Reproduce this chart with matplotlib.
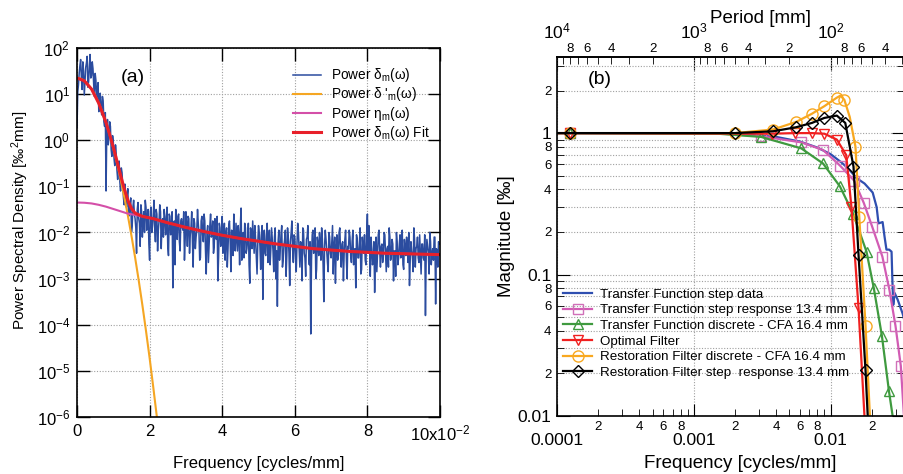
import numpy as np
import matplotlib
matplotlib.use('Agg')
import matplotlib.pyplot as plt
from matplotlib.ticker import FixedLocator, FuncFormatter, NullLocator, LogLocator

plt.rcParams['font.family'] = ['Liberation Sans', 'DejaVu Sans']
plt.rcParams['mathtext.fontset'] = 'custom'
plt.rcParams['mathtext.rm'] = 'Liberation Sans'
plt.rcParams['mathtext.it'] = 'Liberation Sans:italic'
plt.rcParams['mathtext.default'] = 'regular'

# ---- panel (a): power spectra, values are log10 of the PSD ----
# samples at f = 0, 0.0004, 0.0008, ...
psd_log = [
    0.28, 1.20, 1.62, 1.35, 1.70, 0.98, 1.58, 1.82, 1.28, 1.86,
    1.40, 1.55, 0.95, 1.30, 1.12, 0.62, 1.02, 0.55, 0.85, 0.30,
    -1.10, 0.45, 0.05, 0.30, -0.35, -0.05, -0.55, -0.30, -0.85, -0.45,
    -1.10, -0.70, -1.25, -0.95, -1.45, -1.05, -1.60, -1.25, -1.85, -1.30,
    -1.70, -2.45, -1.35, -1.80, -1.40, -2.10, -1.55, -1.30, -1.95, -1.50,
    -2.60, -1.45, -1.85, -1.30, -2.20, -1.60, -1.95, -1.40, -2.35, -1.70,
    -1.50, -2.05, -1.45, -2.50, -1.65, -1.90, -3.20, -1.75, -1.50, -2.15,
    -1.60, -2.40, -1.70, -1.95, -2.60, -1.55, -2.30, -1.70, -2.05, -1.55,
    -2.75, -1.80, -2.10, -1.50, -2.00, -2.55, -1.65, -2.20, -1.75, -2.90,
    -1.85, -2.25, -1.60, -2.05, -2.45, -1.70, -2.15, -3.05, -1.80, -2.30,
    -1.65, -2.20, -2.60, -1.90, -2.35, -1.75, -2.85, -2.00, -1.60, -2.40,
    -2.10, -1.85, -2.70, -1.47, -2.20, -2.55, -1.90, -2.35, -1.80, -3.10,
    -2.05, -1.75, -2.45, -2.15, -2.90, -1.85, -2.30, -2.05, -3.45, -1.95,
    -2.50, -1.80, -2.25, -2.70, -1.90, -2.40, -2.10, -3.00, -3.60, -1.95,
    -2.35, -1.85, -2.60, -2.15, -2.95, -1.90, -2.45, -2.20, -1.75, -2.65,
    -2.10, -2.85, -1.80, -2.40, -2.20, -3.05, -1.95, -2.55, -2.15, -1.85,
    -2.70, -4.20, -2.05, -2.45, -1.90, -2.80, -2.25, -2.00, -2.60, -2.15,
    -3.50, -1.95, -2.40, -2.85, -2.10, -2.55, -1.85, -2.30, -3.10, -2.05,
    -2.50, -1.90, -2.75, -2.20, -2.45, -1.95, -3.00, -2.35, -2.10, -2.65,
    -1.95, -2.40, -3.20, -2.15, -2.55, -1.90, -2.80, -2.30, -2.05, -2.70,
    -1.60, -1.85, -2.95, -2.35, -2.60, -3.30, -2.10, -2.45, -1.95, -2.75,
    -2.25, -2.50, -2.05, -2.85, -2.30, -1.90, -2.60, -2.15, -3.05, -2.40,
    -2.00, -2.70, -2.25, -2.55, -1.95, -2.80, -2.35, -2.10, -2.65, -3.15,
    -2.20, -2.50, -1.90, -2.75, -2.30, -2.55, -2.05, -2.90, -2.25, -2.60,
    -3.80, -2.15, -2.45, -2.00, -2.70, -2.35, -2.10, -3.55, -2.40, -2.20,
]
# samples in between, at f = 0.0002, 0.0006, 0.0010, ...
psd_log_mid = [
    1.05, 1.45, 1.75, 1.10, 1.50, 1.30, 1.68, 1.15, 1.60, 1.35,
    1.70, 1.20, 1.45, 0.90, 1.25, 0.85, 0.70, 0.95, 0.40, 0.60,
    0.20, -0.10, 0.40, -0.20, 0.10, -0.40, -0.10, -0.65, -0.50, -0.90,
    -0.60, -1.00, -1.40, -1.15, -1.20, -1.65, -1.40, -2.00, -1.45, -1.60,
    -1.90, -1.50, -1.70, -2.30, -1.55, -1.75, -2.00, -1.45, -1.65, -2.25,
    -1.55, -2.00, -1.65, -1.90, -1.50, -2.40, -1.75, -1.55, -1.85, -2.10,
    -1.65, -1.80, -2.30, -1.60, -2.05, -1.55, -2.00, -2.70, -1.80, -1.65,
    -2.20, -1.75, -1.90, -1.55, -2.15, -1.85, -1.65, -2.45, -1.90, -2.20,
    -1.70, -2.35, -1.95, -1.80, -2.60, -1.75, -2.05, -1.60, -2.40, -2.00,
    -2.65, -1.85, -2.10, -1.75, -2.30, -2.00, -1.65, -2.55, -1.90, -2.15,
    -2.45, -1.80, -2.05, -2.75, -1.85, -2.20, -1.95, -2.50, -2.30, -1.80,
    -2.40, -2.05, -1.85, -2.60, -2.00, -1.80, -2.45, -2.15, -2.70, -1.90,
    -2.35, -2.10, -1.85, -2.55, -2.25, -2.00, -2.80, -1.85, -2.20, -2.45,
    -2.05, -2.65, -1.95, -2.35, -2.15, -2.85, -1.90, -2.40, -2.20, -2.60,
    -2.05, -2.75, -2.30, -1.95, -2.50, -2.10, -3.15, -2.00, -2.35, -2.05,
    -2.55, -2.25, -2.00, -2.75, -2.35, -1.90, -2.45, -2.95, -2.10, -2.40,
    -2.20, -2.60, -1.95, -2.35, -3.00, -2.10, -2.50, -2.25, -1.90, -2.70,
    -2.30, -2.15, -2.65, -2.00, -2.45, -2.20, -2.90, -2.10, -2.35, -2.60,
    -2.00, -2.40, -2.25, -3.05, -2.15, -2.55, -2.30, -1.95, -2.50, -2.20,
    -2.70, -2.35, -2.05, -2.55, -2.25, -2.90, -2.10, -2.45, -2.60, -2.00,
    -2.45, -2.30, -2.10, -2.70, -2.20, -2.55, -2.85, -2.05, -2.40, -2.30,
    -2.65, -2.00, -2.45, -2.35, -2.75, -2.10, -2.50, -2.25, -2.40, -2.95,
    -2.20, -2.55, -2.05, -2.40, -2.70, -2.15, -2.50, -2.30, -2.00, -2.60,
    -2.40, -2.85, -2.15, -2.35, -2.10, -2.65, -2.45, -2.25, -2.55, -2.05,
    -2.50, -2.30, -2.90, -2.20, -2.45, -2.60, -2.10, -2.35, -2.75, -2.25,
]
psd_step = 0.0002

gauss_freq = [0.000, 0.001, 0.002, 0.003, 0.004, 0.005, 0.006, 0.007, 0.008, 0.009, 0.010, 0.011,
              0.012, 0.013, 0.014, 0.015, 0.016, 0.017, 0.018, 0.019, 0.020, 0.021, 0.022]
gauss_log = [1.35, 1.335, 1.29, 1.21, 1.11, 0.97, 0.80, 0.61, 0.38, 0.12, -0.17, -0.49,
             -0.84, -1.22, -1.63, -2.07, -2.54, -3.04, -3.57, -4.13, -4.72, -5.35, -6.0]

noise_freq = [0.000, 0.002, 0.004, 0.006, 0.008, 0.010, 0.012, 0.014, 0.016, 0.018, 0.021, 0.025,
              0.030, 0.035, 0.040, 0.045, 0.050, 0.055, 0.060, 0.065, 0.070, 0.075, 0.080, 0.085,
              0.090, 0.095, 0.100]
noise_log = [-1.35, -1.355, -1.37, -1.40, -1.44, -1.49, -1.54, -1.59, -1.62, -1.65, -1.70, -1.79,
             -1.89, -1.98, -2.06, -2.13, -2.19, -2.25, -2.30, -2.35, -2.38, -2.41, -2.43, -2.45,
             -2.46, -2.47, -2.48]

fit_freq = [0.000, 0.002, 0.004, 0.006, 0.008, 0.009, 0.010, 0.011, 0.012, 0.013, 0.014, 0.015,
            0.016, 0.018, 0.021, 0.025, 0.030, 0.035, 0.040, 0.045, 0.050, 0.055, 0.060, 0.065,
            0.070, 0.075, 0.080, 0.085, 0.090, 0.095, 0.100]
fit_log = [1.35, 1.29, 1.11, 0.80, 0.38, 0.12, -0.15, -0.45, -0.76, -1.05, -1.30, -1.48,
           -1.58, -1.65, -1.70, -1.79, -1.89, -1.98, -2.06, -2.13, -2.19, -2.25, -2.30, -2.35,
           -2.38, -2.41, -2.43, -2.45, -2.46, -2.47, -2.48]

# ---- panel (b): transfer functions ----
tf_data_f = [1e-4, 0.002, 0.004, 0.006, 0.008, 0.010, 0.012, 0.0135, 0.0155, 0.0177, 0.0203, 0.0217,
             0.0224, 0.0240, 0.0248, 0.0256, 0.0268, 0.0279, 0.0283, 0.0287, 0.0294, 0.0310, 0.0336, 0.0345]
tf_data_m = [1.0, 0.99, 0.94, 0.87, 0.79, 0.71, 0.62, 0.56, 0.48, 0.44, 0.38, 0.30,
             0.23, 0.235, 0.185, 0.15, 0.15, 0.145, 0.09, 0.061, 0.074, 0.066, 0.053, 0.048]

tf_step_f = [1e-4, 1.25e-4, 0.0015, 0.0031, 0.0061, 0.0088, 0.0117, 0.0149, 0.0175, 0.0202, 0.0239,
             0.0269, 0.0298, 0.0326, 0.0345]
tf_step_m = [1.0, 1.0, 0.995, 0.95, 0.86, 0.76, 0.59, 0.46, 0.32, 0.216, 0.134, 0.078, 0.0435, 0.0226, 0.0095]
tf_step_mk = [1, 3, 4, 5, 6, 7, 8, 9, 10, 11, 12, 13]

tf_cfa_f = [1e-4, 1.25e-4, 0.0015, 0.0031, 0.0061, 0.0088, 0.0117, 0.0146, 0.0183, 0.0207, 0.0237, 0.0267, 0.0285]
tf_cfa_m = [1.0, 1.0, 0.99, 0.94, 0.78, 0.61, 0.42, 0.27, 0.145, 0.080, 0.037, 0.015, 0.0098]
tf_cfa_mk = [1, 3, 4, 5, 6, 7, 8, 9, 10, 11]

opt_f = [1e-4, 1.25e-4, 0.0037, 0.0055, 0.0073, 0.0090, 0.0111, 0.0130, 0.0142, 0.0160, 0.0177]
opt_m = [1.0, 1.0, 0.99, 1.0, 1.0, 0.99, 0.90, 0.70, 0.30, 0.058, 0.0098]
opt_mk = [1, 2, 3, 4, 5, 6, 7, 8, 9]

rest_cfa_f = [1e-4, 1.25e-4, 0.0020, 0.0038, 0.0056, 0.0073, 0.0090, 0.0111, 0.0118, 0.0126, 0.0138,
              0.0152, 0.0162, 0.0180, 0.0194]
rest_cfa_m = [1.0, 1.0, 1.0, 1.06, 1.20, 1.37, 1.55, 1.78, 1.84, 1.72, 1.30, 0.80, 0.256, 0.0435, 0.0098]
rest_cfa_mk = [1, 2, 3, 4, 5, 6, 7, 9, 11, 12, 13]

rest_step_f = [1e-4, 1.25e-4, 0.0020, 0.0038, 0.0056, 0.0073, 0.0090, 0.0111, 0.0128, 0.0147, 0.0160, 0.0180, 0.0187]
rest_step_m = [1.0, 1.0, 1.0, 1.03, 1.10, 1.18, 1.28, 1.33, 1.18, 0.58, 0.138, 0.021, 0.0098]
rest_step_mk = [1, 2, 3, 4, 5, 6, 7, 8, 9, 10, 11]

grid_kw = dict(color='#a0a0a0', linestyle=(0, (1, 1.5)), linewidth=0.8)

fig = plt.figure(figsize=(9.04, 4.74), dpi=100)

# ================= (a) =================
psd_all = np.empty(len(psd_log) + len(psd_log_mid))
psd_all[0::2] = psd_log
psd_all[1::2] = psd_log_mid
psd_freq = np.arange(len(psd_all)) * psd_step

ax1 = fig.add_axes([0.0852, 0.1203, 0.4015, 0.7784])
ax1.semilogy(psd_freq, 10 ** psd_all, color='#2b4c9f', lw=1.1,
             label=r'Power $\delta_m(\omega)$')
ax1.semilogy(gauss_freq, 10 ** np.array(gauss_log), color='#f5a623', lw=1.5,
             label=r'Power $\delta\ '"'"'_m(\omega)$')
ax1.semilogy(noise_freq, 10 ** np.array(noise_log), color='#d44fa8', lw=1.5,
             label=r'Power $\eta_m(\omega)$')
ax1.semilogy(fit_freq, 10 ** np.array(fit_log), color='#e8202a', lw=2.2,
             label=r'Power $\delta_m(\omega)$ Fit')
ax1.set_xlim(0, 0.1)
ax1.set_ylim(1e-6, 1e2)
ax1.xaxis.set_major_locator(FixedLocator([0, 0.02, 0.04, 0.06, 0.08, 0.1]))
ax1.xaxis.set_major_formatter(FuncFormatter(
    lambda v, p: '10x10$^{-2}$' if abs(v - 0.1) < 1e-9 else '%d' % round(v * 100)))
ax1.yaxis.set_major_locator(FixedLocator([10.0 ** k for k in range(-6, 3)]))
ax1.yaxis.set_minor_locator(NullLocator())
ax1.yaxis.set_major_formatter(FuncFormatter(lambda v, p: r'$10^{%d}$' % round(np.log10(v))))
ax1.tick_params(which='major', direction='in', length=9, width=1, top=True, right=True,
                labelsize=12, pad=5)
ax1.grid(True, which='major', **grid_kw)
for s in ax1.spines.values():
    s.set_linewidth(1.2)
ax1.set_xlabel('Frequency [cycles/mm]', fontsize=12)
ax1.xaxis.set_label_coords(0.5, -0.105)
ax1.set_ylabel('Power Spectral Density [‰$^2$mm]', fontsize=11)
ax1.yaxis.set_label_coords(-0.127, 0.534)
ax1.text(0.12, 0.921, '(a)', transform=ax1.transAxes, fontsize=14, va='center')
ax1.legend(loc='upper left', bbox_to_anchor=(0.58, 0.965), frameon=False, fontsize=9.8,
           handlelength=2.05, handletextpad=0.75, labelspacing=0.08, borderaxespad=0.0)

# ================= (b) =================
ax2 = fig.add_axes([0.6162, 0.1224, 0.3838, 0.7573])
ax2.loglog(tf_data_f, tf_data_m, color='#2f4fb0', lw=1.6, label='Transfer Function step data')
ax2.loglog(tf_step_f, tf_step_m, color='#d25cb4', lw=1.6, marker='s', ms=7, mfc='none',
           mec='#d070b8', mew=1.0, markevery=tf_step_mk, label='Transfer Function step response 13.4 mm')
ax2.loglog(tf_cfa_f, tf_cfa_m, color='#3f9a3f', lw=1.6, marker='^', ms=7, mfc='none',
           mew=1.0, markevery=tf_cfa_mk, label='Transfer Function discrete - CFA 16.4 mm')
ax2.loglog(opt_f, opt_m, color='#f02020', lw=1.6, marker='v', ms=7, mfc='none',
           mew=1.0, markevery=opt_mk, label='Optimal Filter')
ax2.loglog(rest_cfa_f, rest_cfa_m, color='#f8a820', lw=1.6, marker='o', ms=8, mfc='none',
           mew=1.0, markevery=rest_cfa_mk, label='Restoration Filter discrete - CFA 16.4 mm')
ax2.loglog(rest_step_f, rest_step_m, color='black', lw=1.6, marker='D', ms=6, mfc='none',
           mew=1.0, markevery=rest_step_mk, label='Restoration Filter step  response 13.4 mm')
ax2.set_xlim(1e-4, 0.0344)
ax2.set_ylim(0.01, 3.45)


def minor_lab(v, p):
    e = np.floor(np.log10(v) + 1e-9)
    d = int(round(v / 10 ** e))
    return str(d) if d in (2, 4, 6, 8) else ''


ax2.xaxis.set_major_locator(FixedLocator([1e-4, 1e-3, 1e-2]))
ax2.xaxis.set_minor_locator(LogLocator(base=10, subs=range(2, 10), numticks=20))
ax2.xaxis.set_major_formatter(FuncFormatter(lambda v, p: '%g' % v))
ax2.xaxis.set_minor_formatter(FuncFormatter(minor_lab))
ax2.yaxis.set_major_locator(FixedLocator([0.01, 0.1, 1]))
ax2.yaxis.set_minor_locator(LogLocator(base=10, subs=range(2, 10), numticks=20))
ax2.yaxis.set_major_formatter(FuncFormatter(lambda v, p: '%g' % v))
ax2.yaxis.set_minor_formatter(FuncFormatter(minor_lab))
ax2.tick_params(which='both', direction='in', top=False, right=True)
ax2.tick_params(axis='x', which='major', length=9, labelsize=12.5, pad=12)
ax2.tick_params(axis='x', which='minor', length=5, labelsize=9.5, pad=3.5)
ax2.tick_params(axis='y', which='major', length=9, labelsize=12.5, pad=4)
ax2.tick_params(axis='y', which='minor', length=5, labelsize=9.5, pad=4)
ax2.grid(True, which='major', **grid_kw)
ax2.grid(True, which='minor', axis='y', **grid_kw)
for s in ax2.spines.values():
    s.set_linewidth(1.2)


def inv(x):
    with np.errstate(divide='ignore'):
        return 1.0 / np.asarray(x, dtype=float)


secax = ax2.secondary_xaxis('top', functions=(inv, inv))
secax.xaxis.set_major_locator(FixedLocator([1e2, 1e3, 1e4]))
secax.xaxis.set_minor_locator(FixedLocator(
    [m * 10.0 ** e for e in (1, 2, 3) for m in range(2, 10) if m * 10.0 ** e > 29.5]))
secax.xaxis.set_major_formatter(FuncFormatter(lambda v, p: r'$10^{%d}$' % round(np.log10(v))))
secax.xaxis.set_minor_formatter(FuncFormatter(minor_lab))
secax.tick_params(which='both', direction='in')
secax.tick_params(which='major', length=9, labelsize=12.5, pad=11)
secax.tick_params(which='minor', length=5, labelsize=9.5, pad=1.2)
secax.spines['top'].set_linewidth(1.2)
secax.set_xlabel('Period [mm]', fontsize=13.5)
secax.xaxis.set_label_coords(0.585, 1.095, transform=ax2.transAxes)

ax2.set_xlabel('Frequency [cycles/mm]', fontsize=13.5)
ax2.xaxis.set_label_coords(0.527, -0.11)
ax2.set_ylabel('Magnitude [‰]', fontsize=13.5)
ax2.yaxis.set_label_coords(-0.12, 0.5)
ax2.text(0.089, 0.936, '(b)', transform=ax2.transAxes, fontsize=14, va='center')
ax2.legend(loc='upper left', bbox_to_anchor=(0.0, 0.372), frameon=False, fontsize=9.6,
           numpoints=1, handlelength=2.2, handletextpad=0.6, labelspacing=0.25, borderaxespad=0.05)

fig.savefig('out.png', dpi=100)
